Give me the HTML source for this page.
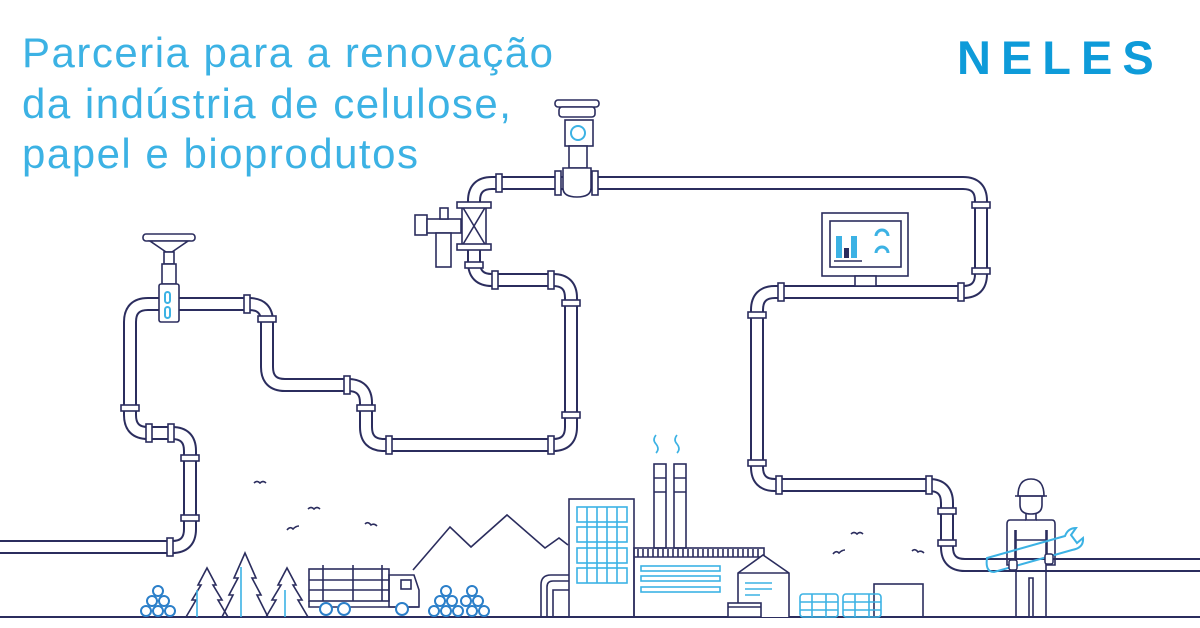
<!DOCTYPE html>
<html><head><meta charset="utf-8"><style>
html,body{margin:0;padding:0;background:#fff;}
#w{position:relative;width:1200px;height:628px;overflow:hidden;background:#fff;}
.t{position:absolute;left:22px;font-family:"Liberation Sans",sans-serif;color:#3cb2e4;font-size:42px;line-height:50px;letter-spacing:1.5px;white-space:nowrap;}
.logo{position:absolute;left:957px;top:30px;font-family:"Liberation Sans",sans-serif;font-weight:bold;color:#0e9bd9;font-size:47px;letter-spacing:10px;}
svg{position:absolute;left:0;top:0;}
</style></head><body><div id="w">
<svg width="1200" height="628" viewBox="0 0 1200 628">
<g fill="none" stroke-linejoin="round">
<path d="M0,547 H172 Q190,547 190,529 V451 Q190,433 172,433 H148 Q130,433 130,415 V322 Q130,304 148,304 H249 Q267,304 267,322 V367 Q267,385 285,385 H348 Q366,385 366,403 V427 Q366,445 384,445 H553 Q571,445 571,427 V298 Q571,280 553,280 H492 Q474,280 474,262 V201 Q474,183 492,183 H963 Q981,183 981,201 V274 Q981,292 963,292 H775 Q757,292 757,310 V467 Q757,485 775,485 H929 Q947,485 947,503 V547 Q947,565 965,565 H1200" stroke="#2b2d5e" stroke-width="14"/>
<path d="M0,547 H172 Q190,547 190,529 V451 Q190,433 172,433 H148 Q130,433 130,415 V322 Q130,304 148,304 H249 Q267,304 267,322 V367 Q267,385 285,385 H348 Q366,385 366,403 V427 Q366,445 384,445 H553 Q571,445 571,427 V298 Q571,280 553,280 H492 Q474,280 474,262 V201 Q474,183 492,183 H963 Q981,183 981,201 V274 Q981,292 963,292 H775 Q757,292 757,310 V467 Q757,485 775,485 H929 Q947,485 947,503 V547 Q947,565 965,565 H1200" stroke="#fff" stroke-width="10"/>
</g>
<g fill="#fff" stroke="#2b2d5e" stroke-width="1.6">
<rect x="181" y="455" width="18" height="6"/><rect x="181" y="515" width="18" height="6"/>
<rect x="121" y="405" width="18" height="6"/><rect x="258" y="316" width="18" height="6"/>
<rect x="357" y="405" width="18" height="6"/><rect x="562" y="300" width="18" height="6"/><rect x="562" y="412" width="18" height="6"/>
<rect x="972" y="202" width="18" height="6"/><rect x="972" y="268" width="18" height="6"/>
<rect x="748" y="312" width="18" height="6"/><rect x="748" y="460" width="18" height="6"/>
<rect x="938" y="508" width="18" height="6"/><rect x="938" y="540" width="18" height="6"/>
<rect x="465" y="262" width="18" height="6"/>
<rect x="167" y="538" width="6" height="18"/><rect x="146" y="424" width="6" height="18"/><rect x="168" y="424" width="6" height="18"/>
<rect x="244" y="295" width="6" height="18"/><rect x="344" y="376" width="6" height="18"/>
<rect x="386" y="436" width="6" height="18"/><rect x="548" y="436" width="6" height="18"/>
<rect x="492" y="271" width="6" height="18"/><rect x="548" y="271" width="6" height="18"/>
<rect x="496" y="174" width="6" height="18"/>
<rect x="778" y="283" width="6" height="18"/><rect x="958" y="283" width="6" height="18"/>
<rect x="776" y="476" width="6" height="18"/><rect x="926" y="476" width="6" height="18"/>
<rect x="143" y="234" width="52" height="7" rx="3"/>
<path d="M150,241 L188,241 L172,252 L166,252 Z"/>
<rect x="164" y="252" width="10" height="12"/><rect x="162" y="264" width="14" height="20"/>
<rect x="159" y="284" width="20" height="38" rx="2"/>
<rect x="415" y="215" width="12" height="20"/><rect x="427" y="219" width="34" height="14"/>
<rect x="436" y="233" width="15" height="34"/><rect x="440" y="208" width="8" height="11"/>
<rect x="462" y="206" width="24" height="40"/>
<path d="M462,206 L486,246 M486,206 L462,246"/>
<rect x="457" y="202" width="34" height="6"/><rect x="457" y="244" width="34" height="6"/>
<rect x="555" y="100" width="44" height="7" rx="3"/><rect x="559" y="107" width="36" height="10" rx="3"/>
<rect x="565" y="120" width="28" height="26"/>
<rect x="569" y="146" width="18" height="22"/>
<path d="M563,168 H591 V188 Q591,197 577,197 Q563,197 563,188 Z"/>
<rect x="555" y="171" width="6" height="24"/><rect x="592" y="171" width="6" height="24"/>
<rect x="822" y="213" width="86" height="63"/><rect x="830" y="221" width="71" height="46"/>
<rect x="855" y="276" width="21" height="10"/>
</g>
<g fill="none" stroke="#3cb2e4" stroke-width="2">
<circle cx="578" cy="133" r="7"/>
<rect x="165" y="292" width="5" height="11" rx="2.5"/><rect x="165" y="307" width="5" height="11" rx="2.5"/>
<path d="M876,236 a6,6 0 1 1 12,0 M876,253 a6,6 0 1 1 12,0" stroke-width="3"/>
</g>
<rect x="836" y="236" width="6" height="22" fill="#3cb2e4"/><rect x="844" y="248" width="5" height="10" fill="#2b2d5e"/><rect x="851" y="236" width="6" height="22" fill="#3cb2e4"/>
<line x1="834" y1="261" x2="862" y2="261" stroke="#2b2d5e" stroke-width="1.5"/>
<line x1="0" y1="617" x2="1200" y2="617" stroke="#2b2d5e" stroke-width="2"/>
<g fill="none" stroke="#2b2d5e" stroke-width="1.6">
<path d="M186,617 L196,600 L192,600 L201,585 L198,585 L207,568 L216,585 L213,585 L222,600 L218,600 L228,617"/>
<path d="M222,617 L233,595 L229,595 L238,578 L234,578 L245,553 L256,578 L252,578 L261,595 L257,595 L268,617"/>
<path d="M266,617 L276,600 L272,600 L281,585 L278,585 L287,568 L296,585 L293,585 L302,600 L298,600 L308,617"/>
<rect x="309" y="569" width="80" height="32"/><path d="M309,580 H389 M309,590 H389 M323,565 V601 M353,565 V601 M382,565 V601"/>
<path d="M389,575 H414 L419,590 V607 H389 Z"/><rect x="401" y="580" width="10" height="9"/>
<path d="M309,601 V607 H419"/>
<path d="M413,570 L450,527 L471,547 L507,515 L545,548 L559,538 L568,545"/>
<path d="M254,483 q3,-3 6,0 q3,-3 6,0 M308,509 q3,-3 6,0 q3,-3 6,0 M287,530 q3,-4 6,-1 q3,-3 6,-3 M365,524 q3,-3 6,1 q3,-2 6,1 M851,534 q3,-3 6,0 q3,-3 6,0 M833,554 q3,-4 6,-1 q3,-3 6,-3 M912,551 q3,-3 6,1 q3,-2 6,1"/>
<rect x="569" y="499" width="65" height="118"/>
<rect x="654" y="464" width="12" height="84"/><rect x="674" y="464" width="12" height="84"/>
<path d="M654,478 H666 M654,492 H666 M674,478 H686 M674,492 H686"/>
<rect x="634" y="548" width="130" height="69"/><path d="M634,557 H764"/>
<path d="M638,549 V557 M643,549 V557 M648,549 V557 M653,549 V557 M658,549 V557 M663,549 V557 M668,549 V557 M673,549 V557 M678,549 V557 M683,549 V557 M688,549 V557 M693,549 V557 M698,549 V557 M703,549 V557 M708,549 V557 M713,549 V557 M718,549 V557 M723,549 V557 M728,549 V557 M733,549 V557 M738,549 V557 M743,549 V557 M748,549 V557 M753,549 V557 M758,549 V557"/>
<path d="M738,617 V573 L763,555 L789,573 V617" fill="#fff"/><path d="M738,573 H789"/>
<rect x="728" y="603" width="33" height="14" fill="#fff"/><path d="M728,607 H761"/>
<path d="M541,617 V585 Q541,575 551,575 H569 M547,617 V587 Q547,581 553,581 H569 M553,617 V590 H569"/>
<rect x="874" y="584" width="49" height="33"/>
<path d="M1018,496 Q1018,479 1031,479 Q1044,479 1044,496 Z"/><path d="M1015,496 H1047"/>
<path d="M1020,496 V505 Q1020,514 1031,514 Q1042,514 1042,505 V496"/>
<path d="M1026,514 V520 H1036 V514"/>
<path d="M1026,520 H1010 Q1007,520 1007,524 V565 H1015 V530 M1036,520 H1052 Q1055,520 1055,524 V565 H1047 V530"/>
<path d="M1016,540 H1046 V617 H1033 V578 H1029 V617 H1016 Z"/>
<path d="M1016,530 V540 M1046,530 V540"/>
</g>
<g fill="none" stroke="#3cb2e4" stroke-width="1.6">
<path d="M656,435 q-4,5 0,9 q4,5 0,9 M677,435 q-4,5 0,9 q4,5 0,9"/>
<path d="M241,567 V617 M197,590 V617 M285,590 V617"/>
<path d="M987,558 L1065,536 Q1068,528 1076,528 L1071,535 L1077,543 L1083,538 Q1084,548 1072,550 L994,572 Q985,572 987,558 Z" stroke-width="2"/>
</g>
<g fill="#fff" stroke="#2b2d5e" stroke-width="1.5">
<rect x="1009" y="560" width="8" height="10" rx="2"/><rect x="1045" y="554" width="8" height="10" rx="2"/>
</g>
<g fill="none" stroke="#3cb2e4" stroke-width="1.6">
<rect x="577" y="507" width="50" height="15"/><rect x="577" y="527" width="50" height="15"/><rect x="577" y="548" width="50" height="15"/><rect x="577" y="568" width="50" height="15"/>
<path d="M587,507 V583 M597,507 V583 M607,507 V583 M617,507 V583"/>
<rect x="641" y="566" width="79" height="5"/><rect x="641" y="576" width="79" height="5"/><rect x="641" y="587" width="79" height="5"/>
<path d="M745,583 H772 M745,589 H772 M745,595 H760"/>
<rect x="800" y="594" width="38" height="23" rx="3"/><rect x="843" y="594" width="38" height="23" rx="3"/>
<path d="M800,602 H838 M800,610 H838 M843,602 H881 M843,610 H881 M812,594 V617 M826,594 V617 M855,594 V617 M869,594 V617"/>
</g>
<g fill="#fff" stroke="#2b7fc9" stroke-width="2">
<circle cx="158" cy="591" r="5"/><circle cx="152" cy="601" r="5"/><circle cx="164" cy="601" r="5"/><circle cx="146" cy="611" r="5"/><circle cx="158" cy="611" r="5"/><circle cx="170" cy="611" r="5"/>
<circle cx="326" cy="609" r="6"/><circle cx="344" cy="609" r="6"/><circle cx="402" cy="609" r="6"/>
<circle cx="446" cy="591" r="5"/><circle cx="472" cy="591" r="5"/>
<circle cx="440" cy="601" r="5"/><circle cx="452" cy="601" r="5"/><circle cx="466" cy="601" r="5"/><circle cx="478" cy="601" r="5"/>
<circle cx="434" cy="611" r="5"/><circle cx="446" cy="611" r="5"/><circle cx="458" cy="611" r="5"/><circle cx="472" cy="611" r="5"/><circle cx="484" cy="611" r="5"/>
</g>
</svg>
<div class="t" style="top:28px">Parceria para a renovação</div>
<div class="t" style="top:79px">da indústria de celulose,</div>
<div class="t" style="top:129px">papel e bioprodutos</div>
<div class="logo">NELES</div>
</div></body></html>
